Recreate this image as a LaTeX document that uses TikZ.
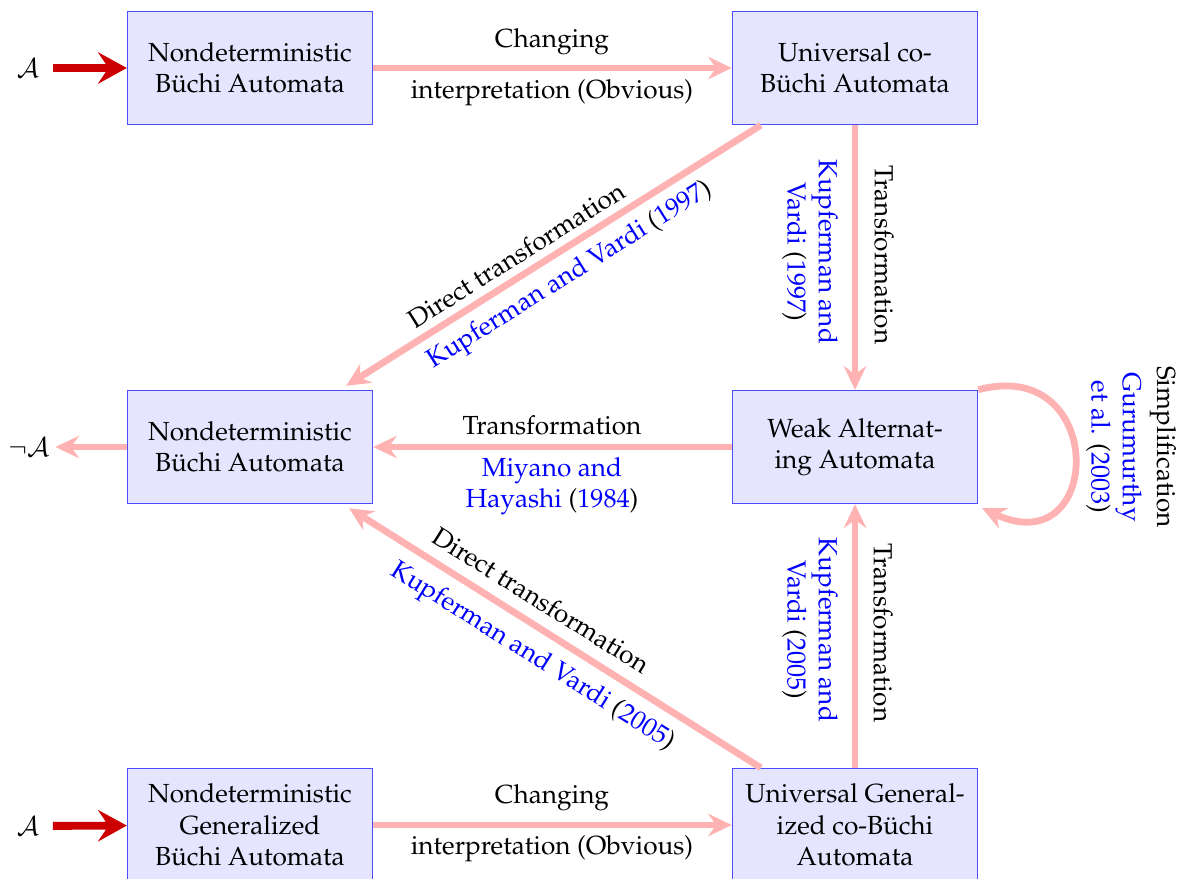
\documentclass[tikz,border=0pt]{standalone}
\usepackage[T1]{fontenc}
\usepackage{mathpazo}
\usetikzlibrary{arrows.meta,calc}
\newcommand\bl[1]{\textcolor{blue}{#1}}

\begin{document}
\begin{tikzpicture}[x=0.382pt,y=-0.382pt,
  box/.style={draw=blue!70, line width=0.5pt, fill=blue!10,
    minimum width=93.6pt, minimum height=43.2pt, align=center, inner sep=0pt},
  pinkarrow/.style={draw=red!30, line width=2.6pt,
    -{Stealth[length=9pt,width=8.5pt,inset=3pt]}},
  redarrow/.style={draw=red!80!black, line width=3pt,
    -{Stealth[length=11pt,width=12pt,inset=4pt]}},
  lbl/.style={inner sep=1pt, align=center},
  src/.style={inner ysep=2pt, inner xsep=5pt}]
\useasboundingbox (0,0) rectangle (1179,878);

% boxes
\node[box] (nba1)  at (250,68)  {Nondeterministic\\B\"uchi Automata};
\node[box] (ucba)  at (855,68)  {Universal co-\\B\"uchi Automata};
\node[box] (nba2)  at (250,447) {Nondeterministic\\B\"uchi Automata};
\node[box] (waa)   at (855,447) {Weak Alternat-\\ing Automata};
\node[box] (ngba)  at (250,825) {Nondeterministic\\Generalized\\B\"uchi Automata};
\node[box] (ugcba) at (855,825) {Universal General-\\ized co-B\"uchi\\Automata};

% outer symbols
\node[src] (a1) at (28,68) {$\mathcal{A}$};
\node[src] (a2) at (28,826) {$\mathcal{A}$};
\node[inner sep=2pt] (na) at (29,447) {$\neg\mathcal{A}$};

% red input arrows
\draw[redarrow] (a1) -- (nba1);
\draw[redarrow] (a2) -- (ngba);

% top horizontal
\draw[pinkarrow] (nba1) -- (ucba);
\node[lbl] (l1a) at (552,42) {Changing};
\node[lbl] (l1b) at (552,93) {interpretation (Obvious)};

% top vertical
\draw[pinkarrow] (ucba) -- (waa);
\node[lbl, rotate=-90] (l2a) at (884,255) {Transformation};
\node[lbl, rotate=-90] (l2b) at (810,252) {\bl{Kupferman and}\\\bl{Vardi} (\bl{1997})};

% top diagonal
\draw[pinkarrow] ($(ucba.south west)+(29,0)$) -- ($(nba2.north east)+(-27,-4)$);
\node[lbl, rotate=32.1] (l3a) at (516,255) {Direct transformation};
\node[lbl, rotate=32.1] (l3b) at (570,276) {\bl{Kupferman and Vardi} (\bl{1997})};

% middle horizontal
\draw[pinkarrow] (waa) -- (nba2);
\node[lbl] (l4a) at (552,425) {Transformation};
\node[lbl] (l4b) at (552,486) {\bl{Miyano and}\\\bl{Hayashi} (\bl{1984})};

% negated output
\draw[pinkarrow] (nba2) -- (na);

% bottom diagonal
\draw[pinkarrow] ($(ugcba.north west)+(29,0)$) -- ($(nba2.south east)+(-24,4)$);
\node[lbl, rotate=-32.1] (l5a) at (541,600) {Direct transformation};
\node[lbl, rotate=-32.1] (l5b) at (532,657) {\bl{Kupferman and Vardi} (\bl{2005})};

% bottom vertical
\draw[pinkarrow] (ugcba) -- (waa);
\node[lbl, rotate=-90] (l6a) at (883,633) {Transformation};
\node[lbl, rotate=-90] (l6b) at (810,630) {\bl{Kupferman and}\\\bl{Vardi} (\bl{2005})};

% self loop
\coordinate (loopend) at ($(waa.south east)+(4,4)$);
\draw[pinkarrow] (waa.north east) to[out=15,in=-25,looseness=2.9] (loopend);
\node[lbl, rotate=-90] (l7a) at (1163,447) {Simplification};
\node[lbl, rotate=-90] (l7b) at (1114,447) {\bl{Gurumurthy}\\\bl{et al.} (\bl{2003})};

% bottom horizontal
\draw[pinkarrow] (ngba) -- (ugcba);
\node[lbl] (l8a) at (552,798) {Changing};
\node[lbl] (l8b) at (552,849) {interpretation (Obvious)};
\end{tikzpicture}
\end{document}
